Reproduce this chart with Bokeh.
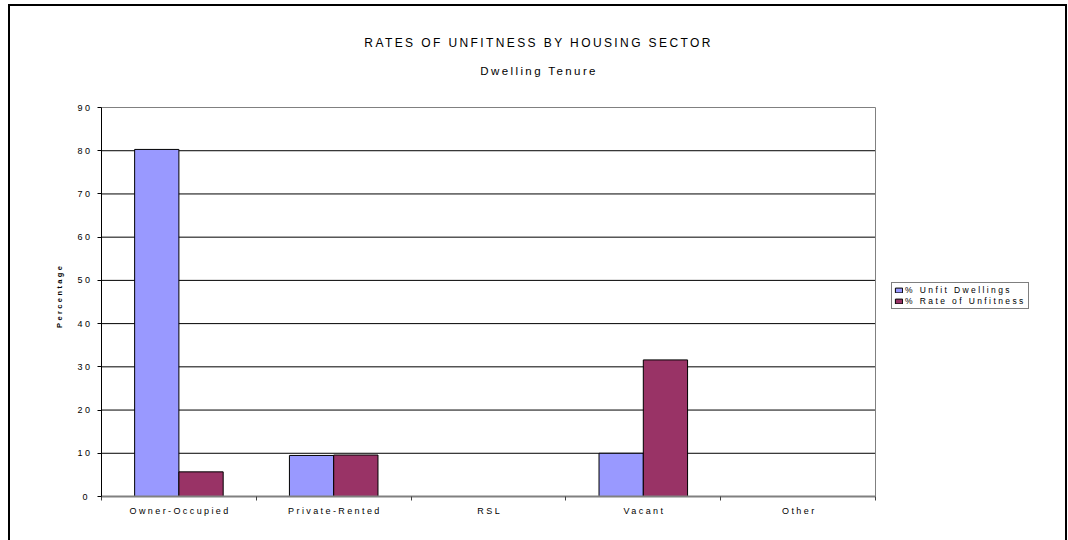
import math
from bokeh.plotting import figure
from bokeh.models import (ColumnDataSource, Range1d, FixedTicker, Legend, LegendItem, Label)
from bokeh.transform import dodge
from bokeh.embed import file_html
from bokeh.resources import INLINE

# Dwelling tenure categories and the two percentage series
categories = ["Owner-Occupied", "Private-Rented", "RSL", "Vacant", "Other"]
unfit_dwellings = [80.3, 9.5, 0.0, 10.0, 0.0]
rate_of_unfitness = [5.7, 9.6, 0.0, 31.6, 0.0]
y_ticks = [0, 10, 20, 30, 40, 50, 60, 70, 80, 90]

title_text = "RATES OF UNFITNESS BY HOUSING SECTOR"
subtitle_text = "Dwelling Tenure"
y_label_text = "Percentage"
series_names = ["% Unfit Dwellings", "% Rate of Unfitness"]

FONT = "Liberation Sans"
BLUE = "#9999FF"
PLUM = "#993366"
GREY = "#808080"
SPACING = 2.4          # letter spacing (px) used for all lettering

# page geometry (px): the bar area and the larger drawing frame around it
OFF_X, OFF_Y = 10, 6                 # figure position inside the bordered page
FIG_W, FIG_H = 1055, 537
AREA_L, AREA_R, AREA_T, AREA_B = 101, 875, 107, 496
FRAME_L, FRAME_R, FRAME_T, FRAME_B = 20, 1050, 10, 538

n_cat = len(categories)
y_top = y_ticks[-1]
sx = (AREA_R - AREA_L) / n_cat
sy = (AREA_B - AREA_T) / y_top


def px_x(px):
    return (px - AREA_L) / sx


def px_y(py):
    return (AREA_B - py) / sy


def spread(text):
    # extra length that letter spacing adds to a text
    return (len(text) - 1) * SPACING


centers = [i + 0.5 for i in range(n_cat)]
source = ColumnDataSource(dict(x=centers, cat=categories,
                               unfit=unfit_dwellings, rate=rate_of_unfitness))

p = figure(width=FIG_W, height=FIG_H, output_backend="svg", toolbar_location=None,
           x_range=Range1d(px_x(FRAME_L), px_x(FRAME_R)),
           y_range=Range1d(px_y(FRAME_B), px_y(FRAME_T)),
           min_border_left=FRAME_L - OFF_X, min_border_right=OFF_X + FIG_W - FRAME_R,
           min_border_top=FRAME_T - OFF_Y, min_border_bottom=OFF_Y + FIG_H - FRAME_B)
p.margin = (OFF_Y, 0, 0, OFF_X)
p.styles = {"outline": "2px solid black", "letter-spacing": f"{SPACING}px"}
p.background_fill_color = "white"
p.border_fill_color = "white"
p.outline_line_color = None
p.xgrid.grid_line_color = None
p.ygrid.grid_line_color = None

# horizontal gridlines, then the grey top and right edges of the bar area
grid_y = y_ticks[1:-1]
p.segment(x0=[0] * len(grid_y), x1=[n_cat] * len(grid_y), y0=grid_y, y1=grid_y,
          line_color="black", line_width=1)
p.segment(x0=[0, n_cat], x1=[n_cat, n_cat], y0=[y_top, 0], y1=[y_top, y_top],
          line_color=GREY, line_width=1)

bar_w = 0.286
r1 = p.vbar(x=dodge("x", -bar_w / 2), top="unfit", width=bar_w, source=source,
            fill_color=BLUE, line_color="black", line_width=1)
r2 = p.vbar(x=dodge("x", bar_w / 2), top="rate", width=bar_w, source=source,
            fill_color=PLUM, line_color="black", line_width=1)

# x axis: labels centred under categories, tick marks on category boundaries
label_pos = [c - spread(lab) / 2 / sx for c, lab in zip(centers, categories)]
xa = p.xaxis[0]
xa.fixed_location = 0
xa.bounds = (0, n_cat)
xa.ticker = FixedTicker(ticks=label_pos, minor_ticks=list(range(n_cat + 1)))
xa.major_label_overrides = {t: lab for t, lab in zip(label_pos, categories)}
xa.major_tick_line_color = None
xa.major_tick_out = 0
xa.major_tick_in = 0
xa.minor_tick_line_color = "#404040"
xa.minor_tick_out = 4
xa.minor_tick_in = 0
xa.axis_line_color = GREY
xa.axis_line_width = 2
xa.major_label_text_font = FONT
xa.major_label_text_font_size = "9px"
xa.major_label_text_color = "black"
xa.major_label_standoff = 5

ya = p.yaxis[0]
ya.fixed_location = 0
ya.bounds = (0, y_top)
ya.ticker = FixedTicker(ticks=y_ticks)
ya.minor_tick_line_color = None
ya.major_tick_out = 4
ya.major_tick_in = 0
ya.major_tick_line_color = "black"
ya.axis_line_color = "black"
ya.axis_line_width = 1
ya.major_label_text_font = FONT
ya.major_label_text_font_size = "9px"
ya.major_label_text_color = "black"
ya.major_label_standoff = 10

# axis title and headings
p.add_layout(Label(x=px_x(59), y=px_y(296.5 + spread(y_label_text) / 2), text=y_label_text,
                   angle=math.pi / 2, text_align="center", text_baseline="middle",
                   text_font=FONT, text_font_size="7.5px", text_font_style="bold",
                   text_color="black"))
p.add_layout(Label(x=px_x(537 - spread(title_text) / 2), y=px_y(42), text=title_text,
                   text_align="center", text_baseline="middle", text_font=FONT,
                   text_font_size="12px", text_color="black"))
p.add_layout(Label(x=px_x(537.5 - spread(subtitle_text) / 2), y=px_y(70), text=subtitle_text,
                   text_align="center", text_baseline="middle", text_font=FONT,
                   text_font_size="11.5px", text_color="black"))

legend = Legend(items=[LegendItem(label=series_names[0], renderers=[r1]),
                       LegendItem(label=series_names[1], renderers=[r2])],
                location=(891 - FRAME_L, FRAME_B - 309))
legend.border_line_color = "black"
legend.border_line_width = 1
legend.background_fill_color = "white"
legend.label_text_font = FONT
legend.label_text_font_size = "8.5px"
legend.label_text_color = "black"
legend.label_height = 8
legend.label_width = 108
legend.glyph_height = 6
legend.glyph_width = 9
legend.label_standoff = 2
legend.spacing = 1
legend.padding = 2
legend.margin = 0
p.add_layout(legend)

open("out.html", "w").write(file_html(p, INLINE))
